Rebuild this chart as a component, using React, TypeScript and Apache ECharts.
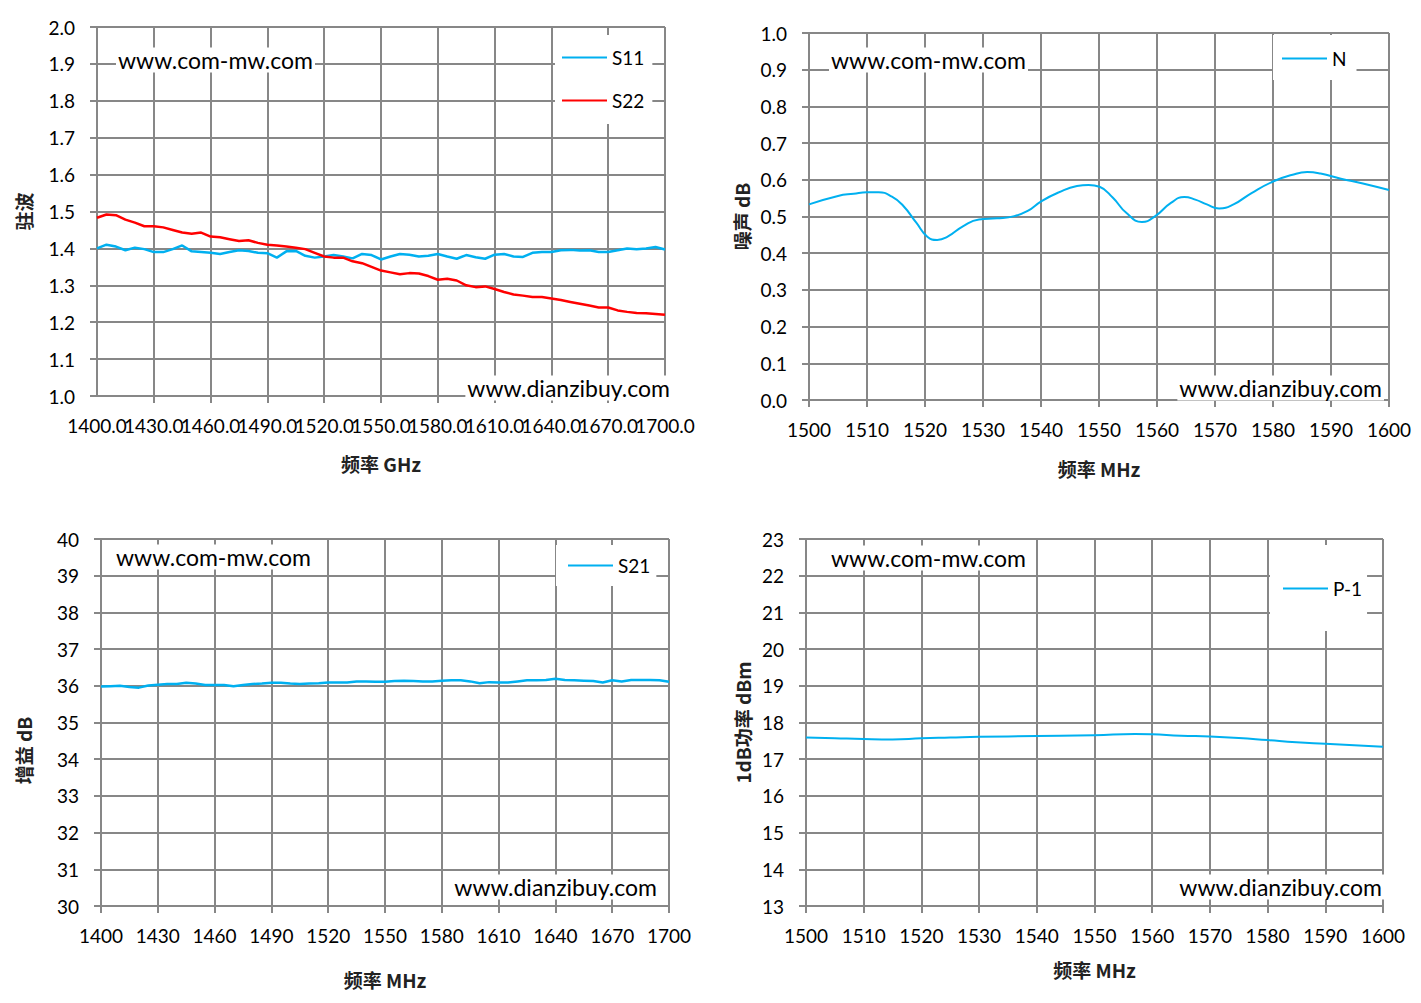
import { useEffect, useRef } from "react";
import * as echarts from "echarts";

// sweep points of the VSWR / gain plots (MHz)
const sweepMHz = [
  1400, 1405, 1410, 1415, 1420, 1425, 1430, 1435, 1440, 1445, 1450, 1455, 1460, 1465, 1470, 1475,
  1480, 1485, 1490, 1495, 1500, 1505, 1510, 1515, 1520, 1525, 1530, 1535, 1540, 1545, 1550, 1555,
  1560, 1565, 1570, 1575, 1580, 1585, 1590, 1595, 1600, 1605, 1610, 1615, 1620, 1625, 1630, 1635,
  1640, 1645, 1650, 1655, 1660, 1665, 1670, 1675, 1680, 1685, 1690, 1695, 1700,
];

const s11 = [
  1.4, 1.41, 1.405, 1.395, 1.402, 1.398, 1.39, 1.39, 1.398, 1.408, 1.392, 1.39, 1.388, 1.385, 1.39, 1.395,
  1.393, 1.388, 1.387, 1.375, 1.392, 1.393, 1.38, 1.375, 1.378, 1.382, 1.378, 1.373, 1.385, 1.382, 1.37, 1.378,
  1.385, 1.383, 1.378, 1.38, 1.385, 1.378, 1.372, 1.382, 1.376, 1.372, 1.383, 1.385, 1.378, 1.377, 1.388, 1.39,
  1.39, 1.395, 1.396, 1.394, 1.395, 1.39, 1.39, 1.395, 1.4, 1.398, 1.4, 1.404, 1.397,
];

const s22 = [
  1.483, 1.492, 1.49, 1.478, 1.47, 1.46, 1.46, 1.457, 1.45, 1.443, 1.44, 1.443, 1.432, 1.43, 1.425, 1.42,
  1.422, 1.415, 1.41, 1.408, 1.405, 1.402, 1.398, 1.388, 1.378, 1.375, 1.375, 1.365, 1.36, 1.35, 1.34, 1.335,
  1.33, 1.333, 1.332, 1.325, 1.315, 1.318, 1.313, 1.3, 1.295, 1.297, 1.29, 1.282, 1.275, 1.272, 1.268, 1.268,
  1.264, 1.26, 1.255, 1.25, 1.245, 1.24, 1.24, 1.232, 1.228, 1.225, 1.224, 1.222, 1.22,
];

const s21 = [
  35.98, 35.99, 36.0, 35.97, 35.95, 36.01, 36.03, 36.05, 36.05, 36.08, 36.06, 36.02, 36.02, 36.02, 35.99, 36.02,
  36.05, 36.06, 36.08, 36.08, 36.06, 36.05, 36.06, 36.07, 36.09, 36.09, 36.09, 36.12, 36.12, 36.11, 36.11, 36.13,
  36.14, 36.13, 36.12, 36.12, 36.14, 36.15, 36.15, 36.12, 36.07, 36.1, 36.09, 36.09, 36.12, 36.15, 36.15, 36.16,
  36.19, 36.16, 36.15, 36.14, 36.13, 36.09, 36.15, 36.12, 36.16, 36.16, 36.16, 36.15, 36.11,
];

// noise figure
const noiseMHz = [
  1500, 1505, 1507.7, 1510, 1512, 1514.3, 1516.2, 1518.5, 1520.4, 1522.1, 1523.9, 1526.6, 1529.3,
  1532.4, 1535.4, 1537.7, 1540.1, 1543.1, 1546.2, 1548.2, 1550.1, 1552.4, 1554.7, 1557.4, 1559.7,
  1562.4, 1564.7, 1566.6, 1568.6, 1570.7, 1573.2, 1576.3, 1580.1, 1583.2, 1585.9, 1588.2, 1591.7,
  1595.5, 1600,
];
const noiseDb = [
  0.533, 0.556, 0.562, 0.566, 0.566, 0.554, 0.53, 0.483, 0.445, 0.436, 0.445, 0.474, 0.492,
  0.495, 0.501, 0.515, 0.542, 0.566, 0.583, 0.586, 0.581, 0.551, 0.51, 0.485, 0.501,
  0.537, 0.553, 0.546, 0.533, 0.522, 0.533, 0.564, 0.596, 0.613, 0.621, 0.617, 0.603,
  0.59, 0.572,
];

// P-1dB
const p1MHz = [1500, 1505, 1510, 1515, 1520, 1525, 1530, 1540, 1550, 1557, 1560, 1565, 1570, 1575, 1580, 1585, 1590, 1595, 1600];
const p1Dbm = [17.59, 17.57, 17.55, 17.54, 17.57, 17.59, 17.61, 17.63, 17.65, 17.69, 17.68, 17.64, 17.62, 17.58, 17.52, 17.46, 17.42, 17.38, 17.34];

const LATIN = "Lato, 'Open Sans', sans-serif";
const CJK = "'Noto Sans CJK SC', sans-serif";
const GRID_GRAY = "#878787";
const BLUE = "#00B0F0";
const RED = "#FF0000";

const pairs = (xs: number[], ys: number[]) => xs.map((x, i) => [x, ys[i]]);

function xAxis(gridIndex: number, min: number, max: number, interval: number, decimals: number, name: string, nameGap: number) {
  return {
    type: "value",
    gridIndex,
    position: "bottom",
    min,
    max,
    interval,
    name,
    nameLocation: "middle",
    nameGap,
    nameTextStyle: { fontFamily: CJK, fontSize: 19, fontWeight: "bold", color: "#222" },
    axisLine: { show: true, lineStyle: { color: GRID_GRAY, width: 2 } },
    axisTick: { show: true, length: 7, lineStyle: { color: GRID_GRAY, width: 2 } },
    splitLine: { show: true, lineStyle: { color: GRID_GRAY, width: 2 } },
    axisLabel: {
      margin: 20,
      showMinLabel: true,
      showMaxLabel: true,
      fontFamily: LATIN,
      fontSize: 19,
      color: "#000",
      formatter: (v: number) => v.toFixed(decimals),
    },
  };
}

function yAxis(gridIndex: number, min: number, max: number, interval: number, decimals: number, name: string, nameGap: number, padding?: number[]) {
  return {
    type: "value",
    gridIndex,
    min,
    max,
    interval,
    name,
    nameLocation: "middle",
    nameGap,
    nameRotate: 90,
    nameTextStyle: { fontFamily: CJK, fontSize: 19, fontWeight: "bold", color: "#222", padding: padding || 0 },
    axisLine: { show: true, lineStyle: { color: GRID_GRAY, width: 2 } },
    axisTick: { show: true, length: 7, lineStyle: { color: GRID_GRAY, width: 2 } },
    splitLine: { show: true, lineStyle: { color: GRID_GRAY, width: 2 } },
    axisLabel: {
      margin: 22,
      showMinLabel: true,
      showMaxLabel: true,
      fontFamily: LATIN,
      fontSize: 19,
      color: "#000",
      formatter: (v: number) => v.toFixed(decimals),
    },
  };
}

function legend(name: string | string[], left: number, top: number, padding: number[], itemGap = 10) {
  return {
    data: Array.isArray(name) ? name : [name],
    orient: "vertical",
    left,
    top,
    padding,
    itemGap,
    icon: "rect",
    itemWidth: 45,
    itemHeight: 2,
    backgroundColor: "#fff",
    textStyle: { fontFamily: LATIN, fontSize: 19, color: "#000" },
    z: 20,
  };
}

function mark(text: string, x: number, y: number, align: "left" | "right") {
  return {
    type: "text",
    x,
    y,
    z: 30,
    style: {
      text,
      align,
      verticalAlign: "middle",
      fill: "#000",
      fontFamily: LATIN,
      fontSize: 23,
      backgroundColor: "#fff",
      padding: [1, 2, 1, 2],
    },
  };
}

export default function App() {
  const ref = useRef<HTMLDivElement>(null);

  useEffect(() => {
    if (!ref.current) return;
    const chart = echarts.init(ref.current, null, { renderer: "svg" });

    // VSWR x axis: its "1400.0" labels overlap like in the original, so the
    // end labels sit on a second, line-less axis over the same span
    const vswrX = xAxis(0, 1400, 1700, 30, 1, "频率 GHz", 58);
    vswrX.axisLabel.showMinLabel = false;
    vswrX.axisLabel.showMaxLabel = false;
    const vswrEnds = {
      ...xAxis(0, 1400, 1700, 300, 1, "", 0),
      axisLine: { show: false },
      axisTick: { show: false },
      splitLine: { show: false },
    };

    chart.setOption({
      animation: false,
      backgroundColor: "#fff",
      grid: [
        { left: 97, top: 27, width: 568, height: 369 },
        { left: 809, top: 33, width: 580, height: 367 },
        { left: 101, top: 539, width: 568, height: 367 },
        { left: 806, top: 539, width: 577, height: 367 },
      ],
      xAxis: [
        vswrX,
        vswrEnds,
        xAxis(1, 1500, 1600, 10, 0, "频率 MHz", 59),
        xAxis(2, 1400, 1700, 30, 0, "频率 MHz", 64),
        xAxis(3, 1500, 1600, 10, 0, "频率 MHz", 54),
      ],
      yAxis: [
        yAxis(0, 1.0, 2.0, 0.1, 1, "驻波", 64),
        yAxis(1, 0, 1.0, 0.1, 1, "噪声 dB", 58),
        yAxis(2, 30, 40, 1, 0, "增益 dB", 68, [0, 56, 0, 0]),
        yAxis(3, 13, 23, 1, 0, "1dB功率 dBm", 54),
      ],
      legend: [
        legend(["S11", "S22"], 555, 35, [13, 8, 14, 7], 24),
        legend("N", 1273, 35, [14, 10, 12, 9]),
        legend("S21", 556, 545, [11, 6, 11, 12]),
        legend("P-1", 1270, 545, [34, 5, 33, 13]),
      ],
      series: [
        {
          name: "S11",
          type: "line",
          xAxisIndex: 0,
          yAxisIndex: 0,
          symbol: "none",
          data: pairs(sweepMHz, s11),
          lineStyle: { color: BLUE, width: 2.5 },
          itemStyle: { color: BLUE },
        },
        {
          name: "S22",
          type: "line",
          xAxisIndex: 0,
          yAxisIndex: 0,
          symbol: "none",
          data: pairs(sweepMHz, s22),
          lineStyle: { color: RED, width: 2.5 },
          itemStyle: { color: RED },
        },
        {
          name: "N",
          type: "line",
          xAxisIndex: 2,
          yAxisIndex: 1,
          symbol: "none",
          smooth: true,
          data: pairs(noiseMHz, noiseDb),
          lineStyle: { color: BLUE, width: 2 },
          itemStyle: { color: BLUE },
        },
        {
          name: "S21",
          type: "line",
          xAxisIndex: 3,
          yAxisIndex: 2,
          symbol: "none",
          data: pairs(sweepMHz, s21),
          lineStyle: { color: BLUE, width: 2.5 },
          itemStyle: { color: BLUE },
        },
        {
          name: "P-1",
          type: "line",
          xAxisIndex: 4,
          yAxisIndex: 3,
          symbol: "none",
          smooth: true,
          data: pairs(p1MHz, p1Dbm),
          lineStyle: { color: BLUE, width: 2 },
          itemStyle: { color: BLUE },
        },
      ],
      graphic: [
        mark("www.com-mw.com", 116, 60, "left"),
        mark("www.dianzibuy.com", 672, 388, "right"),
        mark("www.com-mw.com", 829, 60, "left"),
        mark("www.dianzibuy.com", 1384, 388, "right"),
        mark("www.com-mw.com", 114, 557, "left"),
        mark("www.dianzibuy.com", 659, 887, "right"),
        mark("www.com-mw.com", 829, 558, "left"),
        mark("www.dianzibuy.com", 1384, 887, "right"),
      ],
    });

    return () => {
      chart.dispose();
    };
  }, []);

  return (
    <div
      ref={ref}
      style={{ position: "fixed", left: 0, top: 0, width: 1421, height: 1003, background: "#fff" }}
    />
  );
}
